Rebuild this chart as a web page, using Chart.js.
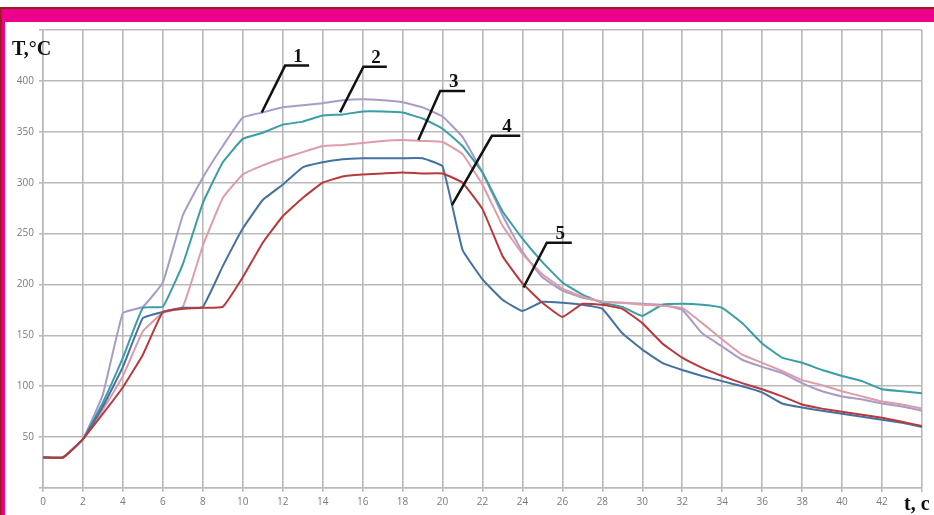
<!DOCTYPE html>
<html><head><meta charset="utf-8">
<script src="https://cdn.jsdelivr.net/npm/chart.js@4/dist/chart.umd.min.js"></script>
<style>html,body{margin:0;padding:0;background:#fff}#wrap{width:934px;height:515px;position:relative}</style>
</head><body><div id="wrap"><canvas id="c" width="934" height="515"></canvas></div>
<script>
// ---- data ----
const times = [0,1,2,3,4,5,6,7,8,9,10,11,12,13,14,15,16,17,18,19,20,21,22,23,24,25,26,27,28,29,30,31,32,33,34,35,36,37,38,39,40,41,42,43,44];
const curve1 = [30,30,48,92,172,178,202,268,305,336,364,369,374,376,378,381,382,381,379,374,365,345,310,268,232,207,194,187,183,182,181,180,175,152,139,126,119,113,103,95,90,87,83,80,76];
const curve2 = [30,30,48,84,128,177,178,220,280,320,343,349,357,360,366,367,370,370,369,363,353,336,310,272,245,222,202,190,182,178,169,180,181,180,177,162,142,128,123,116,110,105,97,95,93];
const curve3 = [30,30,48,77,110,154,172,178,238,285,308,317,324,330,336,337,339,341,342,341,340,328,298,258,230,210,196,188,183,182,180,179,177,162,146,131,123,115,106,101,95,90,85,82,78];
const curve4 = [30,30,48,80,119,167,173,177,178,218,255,283,298,315,320,323,324,324,324,324,316,234,205,185,174,183,182,180,176,152,136,123,116,110,105,100,94,83,79,76,73,70,67,64,60];
const curve5 = [30,30,48,73,99,131,173,176,177,178,207,241,267,285,300,306,308,309,310,309,309,300,274,228,201,182,168,181,180,176,162,142,128,118,110,103,97,90,82,78,75,72,69,65,61];
const xTicks = [0,2,4,6,8,10,12,14,16,18,20,22,24,26,28,30,32,34,36,38,40,42];
const yTicks = [50,100,150,200,250,300,350,400];
const curveNames = ['1','2','3','4','5'];
// leader lines for curve labels (data coordinates: [t, T])
const leaderAnchor = [[10.95,369],[14.87,369],[18.79,342],[20.47,278],[24.05,197]];
const leaderElbow  = [[12.12,415],[16.04,414],[19.88,390],[22.47,346],[25.22,241]];
const leaderEnd    = [[13.32,415],[17.21,414],[21.13,390],[23.89,346],[26.47,241]];

const colors = ['#a99bc6','#3b9da6','#de9ba8','#4571a1','#b8393b'];
const series = [curve1,curve2,curve3,curve4,curve5];

const datasets = series.map((s,i)=>({
  label: curveNames[i],
  data: times.map((t,k)=>({x:t,y:s[k]})),
  borderColor: colors[i], borderWidth: 2, pointRadius: 0, tension: 0.1, fill:false, order: 5-i
}));
curveNames.forEach((n,i)=>{
  datasets.push({
    label: 'leader'+n,
    data: [{x:leaderAnchor[i][0],y:leaderAnchor[i][1]},{x:leaderElbow[i][0],y:leaderElbow[i][1]},{x:leaderEnd[i][0],y:leaderEnd[i][1]}],
    borderColor:'#111', borderWidth:2.5, pointRadius:0, tension:0, fill:false, order:0
  });
});

const framePlugin = {
  id:'frame',
  beforeDraw(chart){
    const c = chart.ctx; const W = chart.width, H = chart.height;
    c.save();
    c.fillStyle='#fff'; c.fillRect(0,0,W,H);
    c.fillStyle='#9b1c1c'; c.fillRect(0,7,W,2);
    c.fillStyle='#ec008c'; c.fillRect(0,9,W,13);
    c.fillStyle='#ec008c'; c.fillRect(0,9,5,H-9);
    c.fillStyle='#9b1c1c'; c.fillRect(0,7,1.5,H-7);
    c.restore();
  },
  afterDatasetsDraw(chart){
    const c = chart.ctx; const xs = chart.scales.x, ys = chart.scales.y;
    c.save();
    c.fillStyle='#111';
    c.font='bold 19px "Liberation Serif", serif';
    c.textAlign='center'; c.textBaseline='alphabetic';
    curveNames.forEach((n,i)=>{
      const px = (xs.getPixelForValue(leaderElbow[i][0]) + xs.getPixelForValue(leaderEnd[i][0]))/2;
      const py = ys.getPixelForValue(leaderElbow[i][1]) - 4;
      c.fillText(n, px+1, py);
    });
    c.font='bold 20px "Liberation Serif", serif';
    c.textAlign='left';
    c.fillText('T,°C', 12, 55);
    c.fillText('t, c', 904, 510);
    c.restore();
  }
};

new Chart(document.getElementById('c'), {
  type:'line',
  data:{datasets},
  options:{
    responsive:false, animation:false, devicePixelRatio:1,
    layout:{padding:{left:0,right:12,top:30,bottom:0}},
    plugins:{legend:{display:false}, tooltip:{enabled:false}},
    scales:{
      x:{type:'linear', min:0, max:44,
        afterBuildTicks(s){ s.ticks = xTicks.concat([44]).map(v=>({value:v})); },
        afterFit(s){ s.height = 27; },
        ticks:{autoSkip:false, maxRotation:0, padding:4, color:'#7a7a7a', font:{family:'"Open Sans", sans-serif', size:10},
          callback:(v)=> xTicks.includes(v) ? String(v) : ''},
        grid:{color:'#b9b9b9', lineWidth:1.6, tickLength:4},
        border:{color:'#b9b9b9', width:1.6}
      },
      y:{min:0, max:450,
        afterBuildTicks(s){ s.ticks = [0].concat(yTicks,[450]).map(v=>({value:v})); },
        afterFit(s){ s.width = 43; },
        ticks:{autoSkip:false, padding:5, color:'#7a7a7a', font:{family:'"Open Sans", sans-serif', size:10},
          callback:(v)=> yTicks.includes(v) ? String(v) : ''},
        grid:{color:'#b9b9b9', lineWidth:1.6, tickLength:4},
        border:{color:'#b9b9b9', width:1.6}
      }
    }
  },
  plugins:[framePlugin]
});
</script></body></html>
